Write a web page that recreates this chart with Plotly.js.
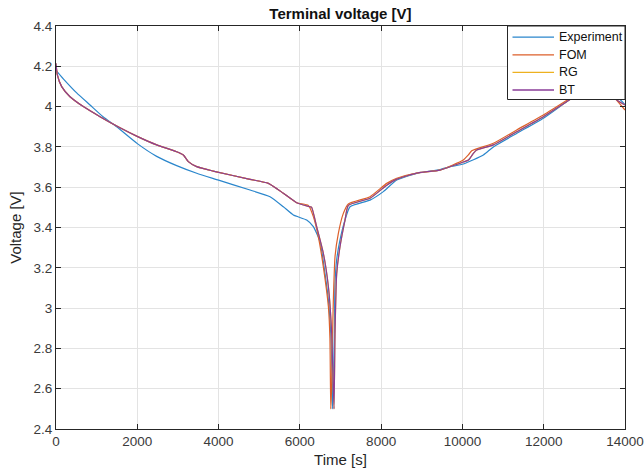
<!DOCTYPE html>
<html>
<head>
<meta charset="utf-8">
<script src="https://cdn.plot.ly/plotly-3.0.1.min.js"></script>
<style>
html,body{margin:0;padding:0;background:#fff;}
#chart{width:644px;height:475px;}
</style>
</head>
<body>
<div id="chart"></div>
<script>
// Experiment
var tExp = [0,180,509,837,1165,1493,2010,2477,2969,3462,4000,4774,5266,5594,5840,6168,6332,6496,6620,6702,6760,6792,6800,6820,6849,6865,6906,6988,7111,7234,7726,8054,8383,8875,9449,9695,10022,10515,10761,11335,11991,12566,13000,13400,13800,14000];
var vExp = [4.18,4.138,4.068,4.008,3.948,3.9,3.815,3.753,3.707,3.669,3.635,3.586,3.553,3.503,3.462,3.437,3.404,3.33,3.17,3.04,2.875,2.68,2.5,2.6,2.875,3.12,3.24,3.338,3.437,3.503,3.536,3.578,3.636,3.669,3.688,3.702,3.715,3.76,3.8,3.867,3.942,4.024,4.08,4.1,4.05,4.01];
// FOM
var tFOM = [0,33,140,345,672,1083,1575,2010,2477,2969,3133,3256,3462,3866,4774,5225,5594,5922,6209,6332,6455,6578,6702,6740,6760,6780,6800,6824,6865,6947,7070,7193,7726,8137,8383,8875,9449,10022,10146,10228,10761,11335,11991,12648,13100,13350,13714,14000];
var vFOM = [4.205,4.157,4.099,4.049,4.0,3.95,3.895,3.851,3.81,3.776,3.76,3.727,3.702,3.68,3.639,3.619,3.57,3.523,3.51,3.454,3.354,3.205,3.007,2.85,2.5,2.6,2.825,3.04,3.255,3.371,3.47,3.517,3.553,3.619,3.644,3.67,3.685,3.735,3.76,3.781,3.818,3.884,3.958,4.041,4.1,4.115,4.05,3.983];
// RG
var tRG = [0,33,140,345,672,1083,1575,2010,2477,2969,3133,3256,3462,3866,4774,5225,5594,5922,6250,6291,6414,6578,6702,6783,6840,6865,6906,6988,7111,7193,7726,8137,8383,8875,9449,10022,10150,10269,10351,10761,11335,11991,12648,13100,13400,13797,14000];
var vRG = [4.215,4.157,4.099,4.049,4.0,3.95,3.895,3.851,3.81,3.776,3.76,3.727,3.702,3.68,3.639,3.619,3.57,3.523,3.503,3.5,3.404,3.272,3.106,2.875,2.5,2.875,3.17,3.305,3.437,3.51,3.545,3.61,3.64,3.67,3.685,3.725,3.735,3.768,3.785,3.81,3.875,3.95,4.035,4.09,4.11,4.033,4.008];
// BT
var tBT = [0,33,140,345,672,1083,1575,2010,2477,2969,3133,3256,3462,3866,4774,5225,5594,5922,6250,6291,6414,6578,6702,6783,6840,6865,6906,6988,7111,7193,7726,8137,8383,8875,9449,10022,10150,10269,10351,10761,11335,11991,12648,13100,13400,13797,14000];
var vBT = [4.215,4.157,4.099,4.049,4.0,3.95,3.895,3.851,3.81,3.776,3.76,3.727,3.702,3.68,3.639,3.619,3.57,3.523,3.503,3.5,3.404,3.272,3.106,2.875,2.5,2.875,3.17,3.305,3.437,3.51,3.545,3.61,3.64,3.67,3.685,3.725,3.735,3.768,3.785,3.81,3.875,3.95,4.035,4.09,4.11,4.033,4.008];

var names = ['Experiment','FOM','RG','BT'];
var colors = ['#2a86cc','#dc5f2a','#EDB120','#8a3c98'];
var xs = [tExp,tFOM,tRG,tBT];
var ys = [vExp,vFOM,vRG,vBT];

var traces = names.map(function(n,i){
  return {x: xs[i], y: ys[i], name: n, type: 'scatter', mode: 'lines',
          line: {color: colors[i], width: 1.2, shape: 'spline', smoothing: 0.5},
          showlegend: false};
});

// Legend box (MATLAB style), placed in plot-area (paper) fractions
var plotL = 56, plotR = 625, plotT = 26, plotB = 429;
function px2x(p){ return (p - plotL) / (plotR - plotL); }
function px2y(p){ return (plotB - p) / (plotB - plotT); }
var shapes = [{type: 'rect', xref: 'paper', yref: 'paper',
  x0: px2x(507.5), x1: 1, y0: px2y(99.5), y1: 1,
  fillcolor: '#ffffff', line: {color: '#262626', width: 1}, layer: 'above'}];
var annotations = [];
names.forEach(function(n,i){
  var yc = px2y(37.2 + i * 17.6);
  shapes.push({type: 'line', xref: 'paper', yref: 'paper',
    x0: px2x(512.5), x1: px2x(554), y0: yc, y1: yc,
    line: {color: colors[i], width: 1.3}, layer: 'above'});
  annotations.push({xref: 'paper', yref: 'paper', x: px2x(556.5), y: yc,
    xanchor: 'left', yanchor: 'middle', showarrow: false, text: n,
    font: {family: 'Liberation Sans, Arial, sans-serif', size: 12.5, color: '#111'}});
});

var axisCommon = {
  showline: true, linecolor: '#262626', linewidth: 1,
  mirror: 'ticks', ticks: 'inside', ticklen: 5, tickcolor: '#262626',
  showgrid: true, gridcolor: '#e3e3e3', gridwidth: 1,
  zeroline: false, tickfont: {family: 'Liberation Sans, Arial, sans-serif', size: 13.5, color: '#3a3a3a'}
};

var layout = {
  width: 644, height: 475,
  margin: {l: 56, r: 19, t: 26, b: 46},
  paper_bgcolor: '#fff', plot_bgcolor: '#fff',
  font: {family: 'Liberation Sans, Arial, sans-serif', color: '#262626'},
  title: {text: '<b>Terminal voltage [V]</b>', font: {size: 15, color: '#111'},
          x: 0.5, xref: 'paper', y: 1 - 14/475, yref: 'container', yanchor: 'middle'},
  xaxis: Object.assign({}, axisCommon, {
    range: [0, 14000], dtick: 2000, tick0: 0, tickformat: 'd',
    title: {text: 'Time [s]', font: {size: 15, color: '#262626'}, standoff: 6}
  }),
  yaxis: Object.assign({}, axisCommon, {
    range: [2.4, 4.4], dtick: 0.2, tick0: 2.4,
    title: {text: 'Voltage [V]', font: {size: 15, color: '#262626'}, standoff: 8}
  }),
  shapes: shapes,
  annotations: annotations,
  showlegend: false
};

Plotly.newPlot('chart', traces, layout, {displayModeBar: false, staticPlot: true});
</script>
</body>
</html>
